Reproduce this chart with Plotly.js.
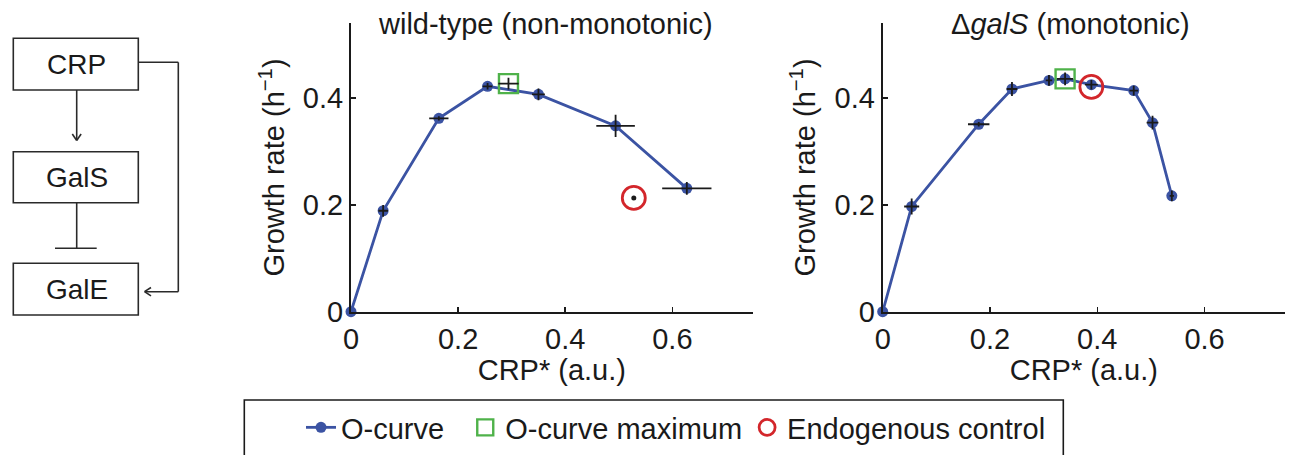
<!DOCTYPE html>
<html>
<head>
<meta charset="utf-8">
<script src="https://cdn.plot.ly/plotly-3.0.1.min.js"></script>
<style>html,body{margin:0;padding:0;background:#fff;}#chart{width:1294px;height:455px;}</style>
</head>
<body>
<div id="chart"></div>
<script>
// ---------- data ----------
const wtX     = [0, 0.060, 0.164, 0.255, 0.350, 0.494, 0.627];
const wtY     = [0, 0.189, 0.362, 0.422, 0.407, 0.348, 0.231];
const wtXErr  = [0, 0.009, 0.018, 0.009, 0.012, 0.036, 0.046];
const wtYErr  = [0, 0.011, 0.004, 0.006, 0.011, 0.021, 0.012];
const wtMaxX = [0.294], wtMaxY = [0.427], wtMaxXErr = [0.019], wtMaxYErr = [0.011];
const wtEndoX = [0.528], wtEndoY = [0.213];

const dgX     = [0, 0.054, 0.179, 0.241, 0.310, 0.340, 0.389, 0.468, 0.503, 0.539];
const dgY     = [0, 0.197, 0.351, 0.417, 0.433, 0.436, 0.425, 0.414, 0.354, 0.217];
const dgXErr  = [0, 0.014, 0.020, 0.010, 0.006, 0.015, 0.012, 0.008, 0.011, 0.004];
const dgYErr  = [0, 0.015, 0.004, 0.013, 0.010, 0.012, 0.009, 0.009, 0.013, 0.010];
const dgMaxX = [0.340], dgMaxY = [0.436];
const dgEndoX = [0.389], dgEndoY = [0.421];

const xTickVals = [0, 0.2, 0.4, 0.6];
const xTickText = ['0', '0.2', '0.4', '0.6'];
const yTickVals = [0, 0.2, 0.4];
const yTickText = ['0', '0.2', '0.4'];

const legendNames = ['O-curve', 'O-curve maximum', 'Endogenous control'];
const panelTitles = ['wild-type (non-monotonic)', '\u0394<i>galS</i> (monotonic)'];
const xTitle = 'CRP* (a.u.)';
const yTitle = 'Growth rate (h<sup>\u22121</sup>)';
const diagramLabels = ['CRP', 'GalS', 'GalE'];

// ---------- style ----------
const W = 1294, H = 455;
const px = x => x / W;
const py = y => 1 - y / H;
const FONT = 'Liberation Sans, Arial, Helvetica, sans-serif';
const FS = 29;
const BLUE = '#3b53a3', GREEN = '#4fb24a', RED = '#d3262b', INK = '#1a1a1a';

function curve(x, y, xa, ya, show) {
  return {x, y, xaxis: xa, yaxis: ya, type: 'scatter', mode: 'lines+markers',
    name: legendNames[0] + '\u00a0\u00a0', showlegend: show, cliponaxis: false,
    line: {color: BLUE, width: 2.8}, marker: {color: BLUE, size: 11}};
}
function bars(x, y, ex, ey, xa, ya) {
  return {x, y, xaxis: xa, yaxis: ya, type: 'scatter', mode: 'markers', showlegend: false, cliponaxis: false,
    marker: {size: 1, color: 'rgba(0,0,0,0)'}, hoverinfo: 'skip',
    error_x: {type: 'data', array: ex, visible: true, color: INK, thickness: 1.8, width: 0},
    error_y: {type: 'data', array: ey, visible: true, color: INK, thickness: 1.8, width: 0}};
}
function maxMarker(x, y, xa, ya, show) {
  return {x, y, xaxis: xa, yaxis: ya, type: 'scatter', mode: 'markers', name: legendNames[1],
    showlegend: show, cliponaxis: false,
    marker: {symbol: 'square-open', size: 19, color: GREEN, line: {width: 2.4, color: GREEN}}};
}
function endoMarker(x, y, xa, ya, show) {
  return {x, y, xaxis: xa, yaxis: ya, type: 'scatter', mode: 'markers', name: legendNames[2],
    showlegend: show, cliponaxis: false,
    marker: {symbol: 'circle-open', size: 23, color: RED, line: {width: 2.8, color: RED}}};
}

const data = [
  curve(wtX, wtY, 'x', 'y', true),
  maxMarker(wtMaxX, wtMaxY, 'x', 'y', true),
  endoMarker(wtEndoX, wtEndoY, 'x', 'y', true),
  bars(wtX, wtY, wtXErr, wtYErr, 'x', 'y'),
  bars(wtMaxX, wtMaxY, wtMaxXErr, wtMaxYErr, 'x', 'y'),
  {x: wtEndoX, y: wtEndoY, xaxis: 'x', yaxis: 'y', type: 'scatter', mode: 'markers', showlegend: false,
   cliponaxis: false, marker: {color: INK, size: 5}},
  curve(dgX, dgY, 'x2', 'y2', false),
  maxMarker(dgMaxX, dgMaxY, 'x2', 'y2', false),
  endoMarker(dgEndoX, dgEndoY, 'x2', 'y2', false),
  bars(dgX, dgY, dgXErr, dgYErr, 'x2', 'y2')
];

function xax(domain, anchor) {
  return {domain, anchor, range: [0, 0.75], showgrid: false, zeroline: false,
    showline: true, linecolor: INK, linewidth: 2, ticks: 'inside', ticklen: 5, tickwidth: 1.5, tickcolor: INK,
    tickvals: xTickVals, ticktext: xTickText, tickfont: {family: FONT, size: FS, color: INK},
    title: {text: xTitle, font: {family: FONT, size: FS, color: INK}, standoff: 6}, automargin: false, fixedrange: true};
}
function yax(domain, anchor) {
  return {domain, anchor, range: [0, 0.54], showgrid: false, zeroline: false,
    showline: true, linecolor: INK, linewidth: 2, ticks: 'inside', ticklen: 5, tickwidth: 1.5, tickcolor: INK,
    tickvals: yTickVals, ticktext: yTickText, tickfont: {family: FONT, size: FS, color: INK},
    title: {text: yTitle, font: {family: FONT, size: FS, color: INK}, standoff: 10}, automargin: false, fixedrange: true};
}

const yDom = [py(311.7), py(23.3)];
const shapes = [];
const annotations = [];
const LINE = {color: '#2a2a2a', width: 1.6};
// diagram boxes
const boxes = [[13.3, 38.3, 138.3, 90], [13.3, 151.7, 138.3, 202.7], [13.3, 263.3, 138.3, 315]];
boxes.forEach((b, i) => {
  shapes.push({type: 'rect', xref: 'paper', yref: 'paper', x0: px(b[0]), x1: px(b[2]), y0: py(b[1]), y1: py(b[3]), line: LINE});
  annotations.push({xref: 'paper', yref: 'paper', x: px((b[0] + b[2]) / 2 + 1), y: py((b[1] + b[3]) / 2), text: diagramLabels[i],
    showarrow: false, xanchor: 'center', yanchor: 'middle', font: {family: FONT, size: 28, color: INK}});
});
function seg(x0, y0, x1, y1) {
  shapes.push({type: 'line', xref: 'paper', yref: 'paper', x0: px(x0), y0: py(y0), x1: px(x1), y1: py(y1), line: LINE});
}
// CRP -> GalS activation
seg(76.7, 90, 76.7, 140);
seg(72.3, 134, 76.7, 140.5); seg(81.1, 134, 76.7, 140.5);
// GalS -| GalE repression
seg(76.7, 202.7, 76.7, 248.3);
seg(55, 248.3, 96.7, 248.3);
// CRP -> GalE feed-forward
seg(138.3, 62.3, 178.3, 62.3);
seg(178.3, 62.3, 178.3, 291.7);
seg(178.3, 291.7, 145, 291.7);
seg(151, 287.5, 144.5, 291.7); seg(151, 295.9, 144.5, 291.7);
// legend frame
shapes.push({type: 'rect', xref: 'paper', yref: 'paper', x0: px(244.3), x1: px(1063.3), y0: py(475), y1: py(400),
  line: {color: INK, width: 1.6}});
// panel titles
annotations.push({xref: 'paper', yref: 'paper', x: px(545.5), y: py(23.6), text: panelTitles[0], showarrow: false,
  xanchor: 'center', yanchor: 'middle', font: {family: FONT, size: FS, color: INK}});
annotations.push({xref: 'paper', yref: 'paper', x: px(1070), y: py(23.6), text: panelTitles[1], showarrow: false,
  xanchor: 'center', yanchor: 'middle', font: {family: FONT, size: FS, color: INK}});

const layout = {
  width: W, height: H, margin: {l: 0, r: 0, t: 0, b: 0},
  paper_bgcolor: '#fff', plot_bgcolor: '#fff',
  font: {family: FONT, size: FS, color: INK},
  xaxis: xax([px(351), px(752.7)], 'y'),
  yaxis: yax(yDom, 'x'),
  xaxis2: xax([px(882.7), px(1285)], 'y2'),
  yaxis2: yax(yDom, 'x2'),
  showlegend: true,
  legend: {orientation: 'h', x: px(301), y: py(402), xanchor: 'left', yanchor: 'top',
    font: {family: FONT, size: FS, color: INK}, bgcolor: 'rgba(0,0,0,0)', borderwidth: 0,
    itemwidth: 30, tracegroupgap: 0},
  shapes, annotations
};

Plotly.newPlot('chart', data, layout, {displayModeBar: false, staticPlot: true});
</script>
</body>
</html>
